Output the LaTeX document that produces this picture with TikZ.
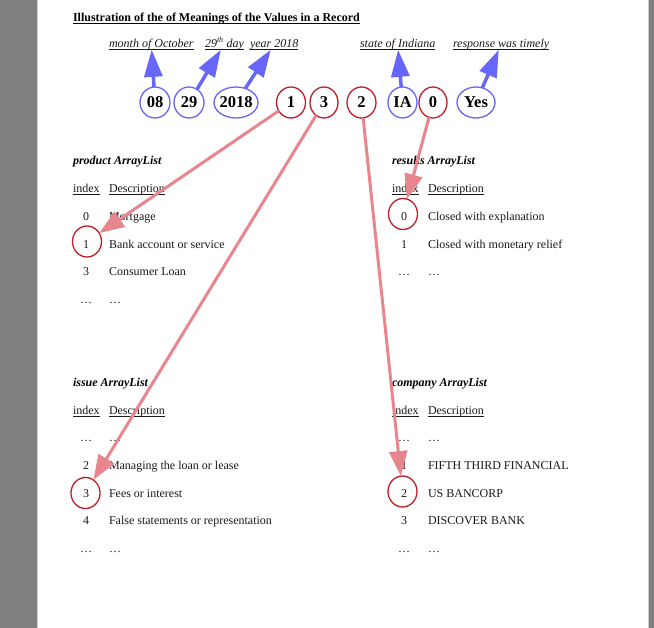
\documentclass[tikz,border=0pt]{standalone}
\usepackage{fontspec}
\setmainfont{Liberation Serif}
\usetikzlibrary{arrows.meta,shapes.geometric}
\definecolor{pagegray}{RGB}{128,128,128}
\definecolor{bluec}{RGB}{102,102,250}
\definecolor{redc}{RGB}{190,30,40}
\definecolor{reda}{RGB}{232,134,142}
\definecolor{txt}{RGB}{25,25,25}
\newcommand{\uln}[1]{\setbox0\hbox{#1}\rlap{\rule[-2.4pt]{\wd0}{0.6pt}}\box0}
\begin{document}
\begin{tikzpicture}[x=1pt,y=-1pt,
  every node/.style={font=\fontsize{12}{14}\selectfont, text=txt, inner sep=0pt, outer sep=0pt},
  lbl/.style={anchor=base west},
  num/.style={anchor=base},
  toplbl/.style={anchor=base west, font=\fontsize{12}{14}\selectfont\itshape},
  headlbl/.style={anchor=base west, font=\fontsize{12}{14}\selectfont\bfseries\itshape, text=black},
  topcirc/.style={ellipse, draw, line width=1.3pt, minimum height=31pt, font=\fontsize{16.5}{18}\selectfont\bfseries, text=black},
  bcirc/.style={topcirc, draw=bluec},
  rcirc/.style={topcirc, draw=redc},
  mark circ/.style={ellipse, draw=redc, line width=1.3pt, minimum width=29pt, minimum height=31pt},
  bluearrow/.style={draw=bluec, line width=3.5pt, -{Triangle[length=27pt,width=18pt]}},
  redarrow/.style={draw=reda, line width=3pt, -{Triangle[length=25pt,width=18pt]}}
]
\useasboundingbox (0,0) rectangle (654,628);
\fill[pagegray] (0,0) rectangle (654,628);
\fill[white] (37,0) rectangle (649,628);
\draw[gray!40, line width=0.8pt] (37.4,0) -- (37.4,628);
\draw[gray!40, line width=0.8pt] (648.6,0) -- (648.6,628);

% title
\node[lbl, font=\fontsize{12}{14}\selectfont\bfseries, text=black] (title) at (73,21.5) {\uln{Illustration of the of Meanings of the Values in a Record}};

% top labels
\node[toplbl] (lmonth) at (109,47.3) {\uln{month of October}};
\node[toplbl] (lday) at (205,47.3) {\uln{29\textsuperscript{th} day}};
\node[toplbl] (lyear) at (250,47.3) {\uln{year 2018}};
\node[toplbl] (lstate) at (360,47.3) {\uln{state of Indiana}};
\node[toplbl] (lresp) at (453,47.3) {\uln{response was timely}};

% top circles
\node[bcirc, minimum width=30pt] (c08) at (155,102.5) {\makebox[0pt]{08}};
\node[bcirc, minimum width=30pt] (c29) at (189,102.5) {\makebox[0pt]{29}};
\node[bcirc, minimum width=44pt] (c2018) at (236,102.5) {\makebox[0pt]{2018}};
\node[rcirc, minimum width=29pt] (c1) at (291,102.5) {\makebox[0pt]{1}};
\node[rcirc, minimum width=28pt] (c3) at (324,102.5) {\makebox[0pt]{3}};
\node[rcirc, minimum width=29pt] (c2) at (361.5,102.5) {\makebox[0pt]{2}};
\node[bcirc, minimum width=29pt] (cIA) at (402.5,102.5) {\makebox[0pt]{IA}};
\node[rcirc, minimum width=28pt] (c0) at (433,102.5) {\makebox[0pt]{0}};
\node[bcirc, minimum width=38pt] (cYes) at (476,102.5) {\makebox[0pt]{Yes}};

% product block
\node[headlbl] (phead) at (73,165) {product ArrayList};
\node[lbl] (pidx) at (73,192.7) {\uln{index}};
\node[lbl] (pdesc) at (109,192.7) {\uln{Description}};
\node[num] (pn0) at (86,221) {0};   \node[lbl] (pd0) at (109,221) {Mortgage};
\node[num] (pn1) at (86,248.5) {1}; \node[lbl] (pd1) at (109,248.5) {Bank account or service};
\node[num] (pn3) at (86,276) {3};   \node[lbl] (pd3) at (109,276) {Consumer Loan};
\node[num] (pn4) at (86,303.5) {…}; \node[lbl] (pd4) at (109,303.5) {…};
\node[mark circ] (p1) at (87,241.5) {};

% results block
\node[headlbl] (rhead) at (392,165) {results ArrayList};
\node[lbl] (ridx) at (392,192.7) {\uln{index}};
\node[lbl] (rdesc) at (428,192.7) {\uln{Description}};
\node[num] (rn0) at (404,221) {0};   \node[lbl] (rd0) at (428,221) {Closed with explanation};
\node[num] (rn1) at (404,248.5) {1}; \node[lbl] (rd1) at (428,248.5) {Closed with monetary relief};
\node[num] (rn2) at (404,276) {…};   \node[lbl] (rd2) at (428,276) {…};
\node[mark circ] (r0) at (403,214) {};

% issue block
\node[headlbl] (ihead) at (73,387) {issue ArrayList};
\node[lbl] (iidx) at (73,414.5) {\uln{index}};
\node[lbl] (idesc) at (109,414.5) {\uln{Description}};
\node[num] (in0) at (86,442) {…};   \node[lbl] (id0) at (109,442) {…};
\node[num] (in2) at (86,470) {2};   \node[lbl] (id2) at (109,470) {Managing the loan or lease};
\node[num] (in3) at (86,497.5) {3}; \node[lbl] (id3) at (109,497.5) {Fees or interest};
\node[num] (in4) at (86,525) {4};   \node[lbl] (id4) at (109,525) {False statements or representation};
\node[num] (in5) at (86,552.5) {…}; \node[lbl] (id5) at (109,552.5) {…};
\node[mark circ] (i3) at (85.5,493) {};

% company block
\node[headlbl] (khead) at (392,387) {company ArrayList};
\node[lbl] (kidx) at (392,414.5) {\uln{index}};
\node[lbl] (kdesc) at (428,414.5) {\uln{Description}};
\node[num] (kn0) at (404,442) {…};   \node[lbl] (kd0) at (428,442) {…};
\node[num] (kn1) at (404,470) {1};   \node[lbl] (kd1) at (428,470) {FIFTH THIRD FINANCIAL};
\node[num] (kn2) at (404,497.5) {2}; \node[lbl] (kd2) at (428,497.5) {US BANCORP};
\node[num] (kn3) at (404,525) {3};   \node[lbl] (kd3) at (428,525) {DISCOVER BANK};
\node[num] (kn4) at (404,552.5) {…}; \node[lbl] (kd4) at (428,552.5) {…};
\node[mark circ] (k2) at (402.5,491.5) {};

% blue arrows
\draw[bluearrow] (c08) -- (lmonth);
\draw[bluearrow] (c29) -- (lday);
\draw[bluearrow] (c2018) -- (lyear);
\draw[bluearrow] (cIA) -- (lstate);
\draw[bluearrow] (cYes) -- (lresp);

% red arrows
\draw[redarrow] (c1) -- (p1);
\draw[redarrow] (c3) -- (i3);
\draw[redarrow] (c2) -- (k2);
\draw[redarrow] (c0) -- (r0);
\end{tikzpicture}
\end{document}
